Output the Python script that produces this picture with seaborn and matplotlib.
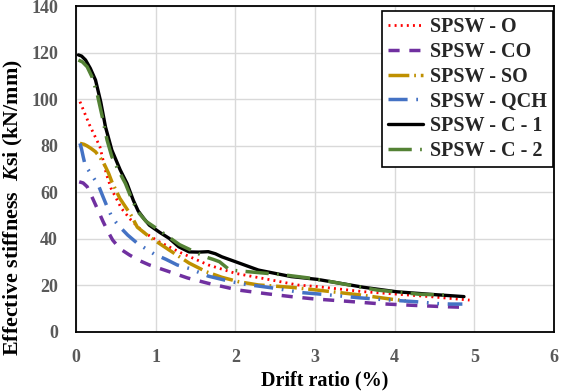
import pandas as pd
import matplotlib.pyplot as plt
import seaborn as sns

# drift ratio (%) / effective stiffness (kN/mm)
o_x = [0.05, 0.17, 0.30, 0.38, 0.44, 0.57, 0.69, 0.84, 1.04, 1.33, 1.66, 2.00, 2.41, 2.78, 3.03, 3.61, 4.44, 4.94]
o_y = [98.9, 88.9, 79.6, 68.0, 61.7, 53.1, 48.1, 43.1, 38.8, 33.8, 28.8, 25.2, 22.6, 20.2, 19.5, 17.3, 15.2, 13.7]

co_x = [0.04, 0.09, 0.14, 0.21, 0.28, 0.34, 0.40, 0.46, 0.55, 0.67, 0.80, 0.92, 1.17, 1.40, 1.66, 2.04, 2.40, 2.70, 2.99, 3.40, 3.78, 4.20, 4.60, 4.87]
co_y = [64.5, 64.0, 62.4, 57.3, 52.0, 47.4, 43.2, 39.5, 35.8, 33.1, 30.6, 28.8, 25.9, 23.2, 20.9, 18.0, 16.4, 15.2, 14.2, 13.2, 12.2, 11.5, 10.9, 10.6]

so_x = [0.05, 0.10, 0.14, 0.19, 0.245, 0.30, 0.35, 0.41, 0.45, 0.55, 0.69, 0.77, 0.92, 1.17, 1.42, 1.64, 1.83, 2.04, 2.29, 2.70, 3.03, 3.57, 3.98, 4.14]
so_y = [81.0, 80.6, 79.9, 78.8, 77.4, 75.0, 72.4, 68.1, 64.5, 57.4, 50.2, 45.0, 40.9, 35.2, 29.6, 25.8, 23.5, 21.6, 20.2, 19.2, 18.0, 15.9, 14.0, 13.4]

qch_x = [0.05, 0.07, 0.09, 0.11, 0.15, 0.19, 0.28, 0.34, 0.40, 0.46, 0.54, 0.65, 0.77, 0.98, 1.13, 1.27, 1.42, 1.66, 1.95, 2.12, 2.45, 2.84, 3.09, 3.40, 3.55, 3.82, 4.13, 4.27, 4.54, 4.70, 4.85]
qch_y = [81.0, 78.5, 75.3, 72.4, 69.8, 67.8, 63.1, 58.0, 53.0, 48.8, 45.5, 41.6, 38.1, 33.5, 31.2, 28.8, 27.3, 24.0, 21.6, 20.5, 19.0, 16.9, 16.2, 15.2, 14.7, 14.0, 13.3, 13.0, 12.2, 12.0, 12.0]

c1_x = [0.03, 0.07, 0.12, 0.18, 0.245, 0.31, 0.37, 0.45, 0.555, 0.64, 0.72, 0.78, 0.85, 0.92, 1.05, 1.17, 1.29, 1.42, 1.54, 1.66, 1.75, 1.83, 2.00, 2.29, 2.70, 3.03, 3.20, 3.61, 4.02, 4.44, 4.87]
c1_y = [119.0, 118.5, 116.8, 113.2, 108.2, 98.9, 88.1, 78.1, 69.6, 63.8, 56.5, 52.0, 48.8, 45.9, 42.8, 40.2, 36.6, 34.4, 34.3, 34.5, 33.6, 32.3, 30.2, 26.6, 23.8, 22.6, 21.6, 19.2, 17.3, 16.2, 15.2]

c2_x = [0.03, 0.08, 0.14, 0.20, 0.265, 0.33, 0.39, 0.45, 0.53, 0.62, 0.70, 0.78, 0.88, 1.04, 1.30, 1.62, 1.72, 1.80, 1.93, 2.16, 2.62, 2.90, 3.20, 3.78, 4.31, 4.62]
c2_y = [116.8, 116.0, 113.9, 109.6, 102.4, 92.4, 82.4, 75.3, 69.6, 63.8, 57.0, 51.5, 47.5, 43.8, 37.5, 32.3, 31.2, 30.2, 26.6, 25.9, 24.5, 23.3, 21.6, 18.0, 16.2, 15.9]

names = ['SPSW - O', 'SPSW - CO', 'SPSW - SO', 'SPSW - QCH', 'SPSW - C - 1', 'SPSW - C - 2']
xs = [o_x, co_x, so_x, qch_x, c1_x, c2_x]
ys = [o_y, co_y, so_y, qch_y, c1_y, c2_y]
cores = ['#FF0000', '#7030A0', '#BF9000', '#4472C4', '#000000', '#548235']
larguras = [2.0, 2.5, 2.5, 2.5, 2.4, 2.5]
estilos = [(0, (0.7, 1.5)),
           (0, (3.2, 2.8)),
           (0, (6, 1.4, 0.5, 1.4)),
           (0, (5.5, 2.5, 0.5, 2.5, 0.5, 2.5)),
           '-',
           (0, (6.7, 2.4, 0.5, 2.4))]

sns.set_theme(style='white')
plt.rcParams['font.family'] = ['Liberation Serif', 'DejaVu Serif']
plt.rcParams['font.weight'] = 'bold'
plt.rcParams['mathtext.fontset'] = 'custom'
plt.rcParams['mathtext.it'] = 'Liberation Serif:italic:bold'
plt.rcParams['mathtext.rm'] = 'Liberation Serif:bold'

fig = plt.figure(figsize=(5.62, 3.91), dpi=100)
ax = fig.add_axes([76 / 562, 1 - 332 / 391, 478 / 562, 326 / 391])

for x, y, nome, cor, lw, ls in zip(xs, ys, names, cores, larguras, estilos):
    df = pd.DataFrame({'drift': x, 'k': y})
    sns.lineplot(data=df, x='drift', y='k', ax=ax, color=cor, lw=lw,
                 linestyle=ls, label=nome, sort=False)

ax.set_xlim(0, 6)
ax.set_ylim(0, 140)
ax.set_xticks(range(0, 7))
ax.set_yticks(range(0, 141, 20))
ax.grid(True, color='#D9D9D9', lw=1)
ax.tick_params(length=0, labelsize=13, labelcolor='#595959')
ax.tick_params(axis='x', pad=12)
ax.tick_params(axis='y', pad=13)
for lab in ax.get_xticklabels() + ax.get_yticklabels():
    lab.set_fontweight('bold')
for s in ax.spines.values():
    s.set_color('black')
    s.set_linewidth(1.3)

ax.set_xlabel('Drift ratio (%)', fontsize=14.5, fontweight='bold', color='black')
ax.xaxis.set_label_coords(0.521, -0.117)
ax.set_ylabel('Effective stiffness  $\\mathit{K}$si (kN/mm)', fontsize=15.8,
              fontweight='bold', color='black')
ax.yaxis.set_label_coords(-0.107, 0.38)

leg = ax.legend(loc='upper right', bbox_to_anchor=(553 / 562, 1 - 11 / 391),
                bbox_transform=fig.transFigure, borderaxespad=0, fontsize=14.5,
                frameon=True, fancybox=False, edgecolor='black', framealpha=1,
                handlelength=1.75, handletextpad=0.35, labelspacing=0.24,
                borderpad=0.3)
leg.get_frame().set_linewidth(1.2)

fig.savefig('out.png', dpi=100)
